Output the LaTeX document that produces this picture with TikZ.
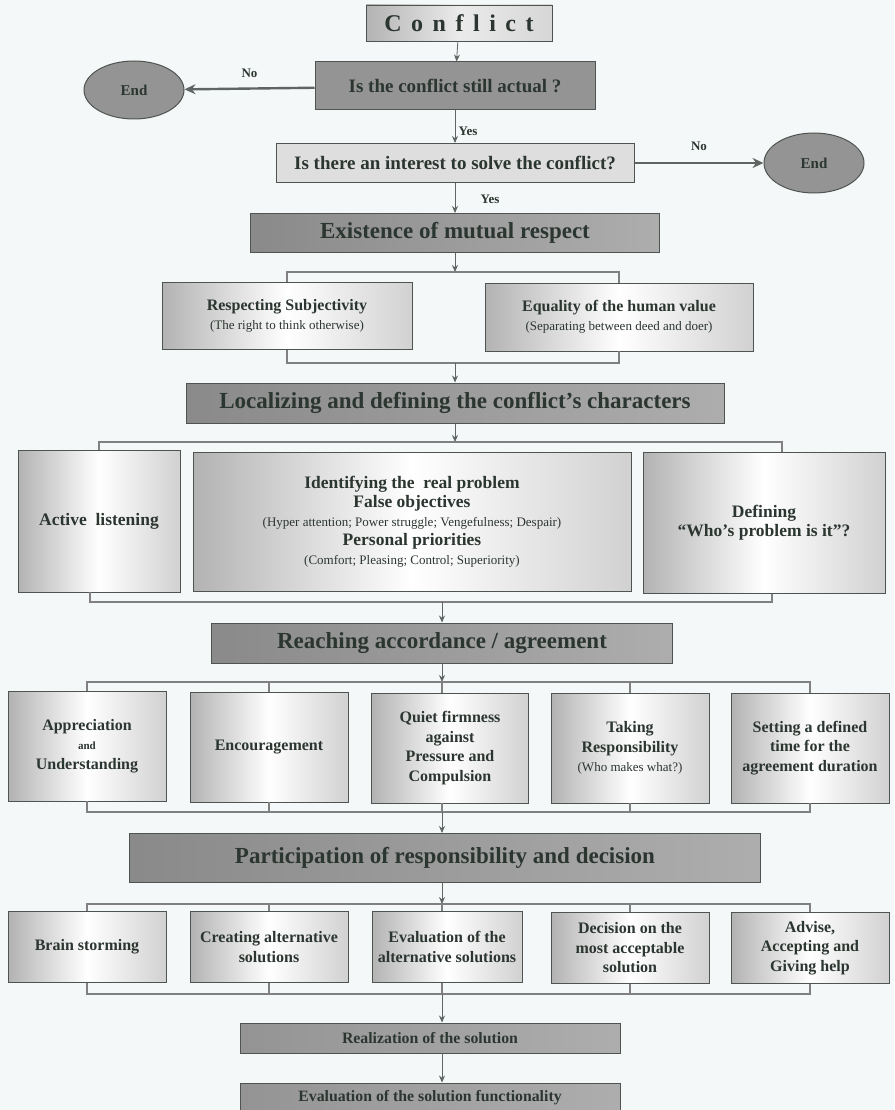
\documentclass[tikz,border=0pt]{standalone}
\usepackage{fontspec}
\setmainfont{Liberation Serif}
\usetikzlibrary{shapes.geometric, arrows, arrows.meta, positioning}

\definecolor{ink}{RGB}{44,54,48}
\definecolor{paper}{RGB}{245,248,248}
\definecolor{frame}{RGB}{78,84,80}
\definecolor{wire}{RGB}{95,101,98}

\newcommand{\hdfont}{\fontsize{23}{26}\selectfont\bfseries}
\newcommand{\qfont}{\fontsize{19}{22}\selectfont\bfseries}
\newcommand{\bxfont}{\fontsize{16}{19.5}\selectfont\bfseries}
\newcommand{\midfont}{\fontsize{17.5}{19}\selectfont\bfseries}
\newcommand{\aside}[1]{{\mdseries\fontsize{13}{19}\selectfont #1}}
\newcommand{\lsp}{\hspace{9.5pt}}

\tikzstyle{title} = [rectangle, 
minimum width=186pt, 
minimum height=36pt,
draw=frame, line width=0.8pt,
left color=black!30, right color=black!16, middle color=black!8,
text=ink, 
font=\fontsize{24}{26}\selectfont\bfseries]
\tikzstyle{question} = [rectangle, 
draw=frame, line width=1pt, 
fill=black!42, 
text=ink, font=\qfont]
\tikzstyle{stop} = [ellipse, 
minimum width=100pt, 
minimum height=58pt,
draw=frame, line width=1pt, 
fill=black!42, 
text=ink, font=\fontsize{15}{17}\selectfont\bfseries]
\tikzstyle{header} = [rectangle, 
draw=frame, line width=1pt, 
left color=black!46, right color=black!32, 
text=ink, font=\hdfont]
\tikzstyle{item} = [rectangle, 
draw=frame, line width=0.8pt, 
left color=black!30, right color=black!18, middle color=white, 
text=ink, align=center, font=\bxfont]
\tikzstyle{cell} = [item, minimum width=158pt, minimum height=110pt]
\tikzstyle{stepbox} = [item, minimum width=158pt, minimum height=71pt]
\tikzstyle{answer} = [text=ink, font=\fontsize{13}{15}\selectfont\bfseries]
\tikzstyle{arrow} = [draw=wire, line width=0.8pt, ->, >={Stealth[length=7pt, width=6pt]}]
\tikzstyle{bigarrow} = [draw=wire, line width=2.4pt, ->, >={Stealth[length=11pt, width=10pt]}]
\tikzstyle{link} = [draw=black!50, line width=1.1pt]

\begin{document}
\begin{tikzpicture}[x=1pt, y=-1pt]

\fill [paper] (0,0) rectangle (894,1110);
\useasboundingbox (0,0) rectangle (894,1110);

% questions
\node (conflict) [title] at (459,23) {C\lsp o\lsp n\lsp f\lsp l\lsp i\lsp c\lsp t};
\node (q1) [question, minimum width=280pt, minimum height=48pt] at (455,86) {Is the conflict still actual ?};
\node (endL) [stop] at (134,90) {End};
\node (q2) [question, fill=black!13, minimum width=358pt, minimum height=39pt] at (455,163) {Is there an interest to solve the conflict?};
\node (endR) [stop, minimum height=60pt] at (814,163) {End};

% mutual respect
\node (exist) [header, minimum width=409pt, minimum height=39pt] at (455,233) {Existence of mutual respect};
\node (resp) [item, minimum width=250pt, minimum height=67pt] at (287,316) {Respecting Subjectivity\\ \aside{(The right to think otherwise)}};
\node (equal) [item, minimum width=268pt, minimum height=68pt] at (619,317) {Equality of the human value\\ \aside{(Separating between deed and doer)}};

\coordinate (r1t) at (455,272);
\coordinate (r1b) at (455,363);

% characters
\node (local) [header, minimum width=538pt, minimum height=40pt] at (455,403) {Localizing and defining the conflict’s characters};
\node (active) [item, font=\midfont, minimum width=162pt, minimum height=142pt] at (99,521) {Active\ \ listening};
\node (ident) [item, font=\midfont, minimum width=438pt, minimum height=139pt] at (412,522) {Identifying the\ \ real problem\\ False objectives\\ \aside{(Hyper attention; Power struggle; Vengefulness; Despair)}\\ Personal priorities\\ \aside{(Comfort; Pleasing; Control; Superiority)}};
\node (define) [item, font=\midfont, minimum width=242pt, minimum height=141pt] at (764,523) {Defining\\ “Who’s problem is it”?};

\coordinate (r2t) at (455,442);
\coordinate (r2b) at (442,602);

% agreement
\node (reach) [header, minimum width=461pt, minimum height=40pt] at (442,643) {Reaching accordance / agreement};
\node (a1) [cell] at (87,746) {Appreciation\\ {\fontsize{11}{19}\selectfont and}\\ Understanding};
\node (a2) [cell] at (269,747) {Encouragement};
\node (a3) [cell, minimum width=157pt] at (450,748) {Quiet firmness\\ against\\ Pressure and\\ Compulsion};
\node (a4) [cell] at (630,748) {Taking\\ Responsibility\\ \aside{(Who makes what?)}};
\node (a5) [cell] at (810,748) {Setting a defined\\ time for the\\ agreement duration};

\coordinate (r3t) at (442,682);
\coordinate (r3b) at (442,812);

% decision
\node (partic) [header, minimum width=631pt, minimum height=49pt] at (445,858) {Participation of responsibility and decision};
\node (p1) [stepbox] at (87,947) {Brain storming};
\node (p2) [stepbox] at (269,947) {Creating alternative\\ solutions};
\node (p3) [stepbox, minimum width=150pt] at (447,947) {Evaluation of the\\ alternative solutions};
\node (p4) [stepbox] at (630,948) {Decision on the\\ most acceptable\\ solution};
\node (p5) [stepbox] at (810,948) {Advise,\\ Accepting and\\ Giving help};

\coordinate (r4t) at (442,904);
\coordinate (r4b) at (442,994);

% solution
\node (real) [header, font=\fontsize{15.8}{18}\selectfont\bfseries, left color=black!42, right color=black!32, minimum width=380pt, minimum height=30pt] at (430,1038) {Realization of the solution};
\node (evalf) [header, font=\fontsize{15.8}{18}\selectfont\bfseries, left color=black!42, right color=black!32, minimum width=380pt, minimum height=30pt] at (430,1098) {Evaluation of the solution functionality};

% connectors
\draw [arrow] (conflict) -- (q1);
\draw [bigarrow] (q1) -- node[answer, above=6pt] {No} (endL);
\draw [arrow] (q1) -- node[answer, right, pos=0.65] {Yes} (q2);
\draw [bigarrow] (q2) -- node[answer, above=8pt] {No} (endR);
\draw [arrow] (q2) -- node[answer, right=22pt, pos=0.55] {Yes} (exist);

\draw [arrow] (exist) -- (r1t);
\draw [link] (resp.north) |- (r1t) -| (equal.north);
\draw [link] (resp.south) |- (r1b) -| (equal.south);
\draw [arrow] (r1b) -- (local);

\draw [arrow] (local) -- (r2t);
\draw [link] (active.north) |- (r2t) -| ([xshift=18pt]define.north);
\draw [link] ([xshift=-9pt]active.south) |- (r2b) -| ([xshift=8pt]define.south);
\draw [arrow] (r2b) -- (reach);

\draw [arrow] (reach) -- (r3t);
\draw [link] (a1.north) |- (r3t) -| (a5.north);
\draw [link] (a2.north) -- (a2.north |- r3t);
\draw [link] (a4.north) -- (a4.north |- r3t);
\draw [link] (r3t) -- (r3t |- a3.north);
\draw [link] (a1.south) |- (r3b) -| (a5.south);
\draw [link] (a2.south) -- (a2.south |- r3b);
\draw [link] (a4.south) -- (a4.south |- r3b);
\draw [link] (r3t |- a3.south) -- (r3b);
\draw [arrow] (r3b) -- (r3b |- partic.north);

\draw [arrow] (r3b |- partic.south) -- (r4t);
\draw [link] (p1.north) |- (r4t) -| (p5.north);
\draw [link] (p2.north) -- (p2.north |- r4t);
\draw [link] (p4.north) -- (p4.north |- r4t);
\draw [link] (r4t) -- (r4t |- p3.north);
\draw [link] (p1.south) |- (r4b) -| (p5.south);
\draw [link] (p2.south) -- (p2.south |- r4b);
\draw [link] (p4.south) -- (p4.south |- r4b);
\draw [link] (r4t |- p3.south) -- (r4b);
\draw [arrow] (r4b) -- (r4b |- real.north);
\draw [arrow] (r4b |- real.south) -- (r4b |- evalf.north);

\end{tikzpicture}
\end{document}
